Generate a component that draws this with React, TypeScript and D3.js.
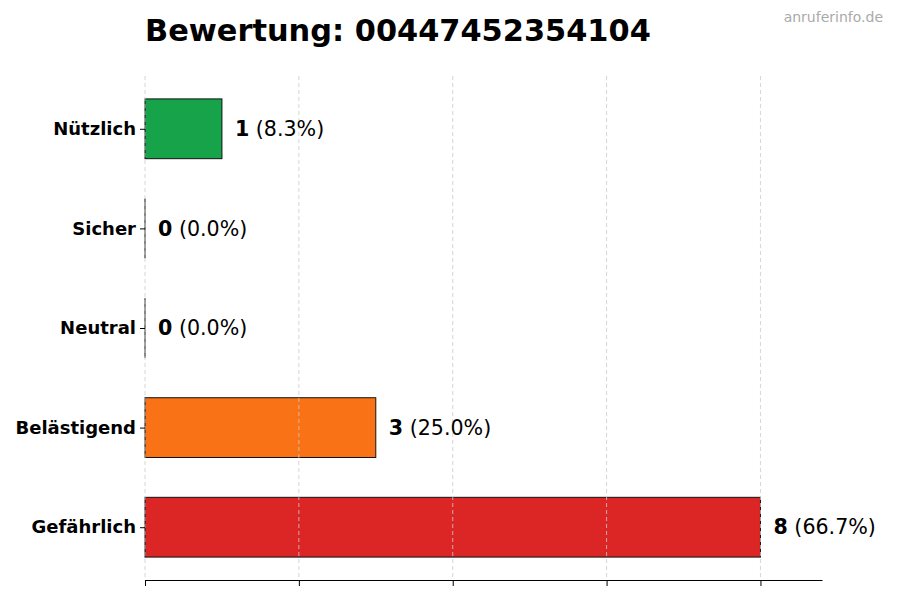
// Bewertung chart - horizontal bar chart of call ratings

import { useEffect, useRef } from "react";
import * as d3 from "d3";

const categories = ["Gefährlich", "Belästigend", "Neutral", "Sicher", "Nützlich"];
const counts = [8, 3, 0, 0, 1];
const colors = ["#dc2626", "#f97316", "#6b7280", "#2563eb", "#16a34a"];
const xTicks = [0, 2, 4, 6, 8];

const title = "Bewertung: 00447452354104";
const watermark = "anruferinfo.de";

export default function App() {
  const svgRef = useRef<SVGSVGElement>(null);

  useEffect(() => {
    if (!svgRef.current) return;
    const svg = d3.select(svgRef.current);
    svg.selectAll("*").remove();

    const width = 900;
    const height = 600;
    const margin = { top: 76, right: 78, bottom: 20, left: 145 };
    const font = "DejaVu Sans, sans-serif";

    const total = d3.sum(counts);
    const maxVal = d3.max(counts) || 1;

    const x = d3
      .scaleLinear()
      .domain([0, maxVal * 1.1])
      .range([margin.left, width - margin.right]);

    // matplotlib style: bar height 0.6, 5% margins
    const y = d3
      .scaleLinear()
      .domain([-0.53, categories.length - 1 + 0.53])
      .range([height - margin.bottom, margin.top]);
    const barH = Math.abs(y(0.6) - y(0));

    svg
      .append("rect")
      .attr("width", width)
      .attr("height", height)
      .attr("fill", "#ffffff");

    // Bars
    svg
      .append("g")
      .selectAll("rect")
      .data(counts)
      .enter()
      .append("rect")
      .attr("x", x(0))
      .attr("y", (d, i) => y(i) - barH / 2)
      .attr("width", (d) => x(d) - x(0))
      .attr("height", barH)
      .attr("fill", (d, i) => colors[i])
      .attr("stroke", "#111")
      .attr("stroke-width", 1);

    // Zero bars: edge line only
    svg
      .append("g")
      .selectAll("line")
      .data(counts.map((d, i) => ({ d, i })).filter((o) => o.d === 0))
      .enter()
      .append("line")
      .attr("x1", x(0))
      .attr("x2", x(0))
      .attr("y1", (o) => y(o.i) - barH / 2)
      .attr("y2", (o) => y(o.i) + barH / 2)
      .attr("stroke", "#111")
      .attr("stroke-width", 1);

    // Grid (on top of bars)
    svg
      .append("g")
      .selectAll("line")
      .data(xTicks)
      .enter()
      .append("line")
      .attr("x1", (d) => x(d))
      .attr("x2", (d) => x(d))
      .attr("y1", margin.top)
      .attr("y2", height - margin.bottom)
      .attr("stroke", "#cccccc")
      .attr("stroke-width", 0.8)
      .attr("stroke-dasharray", "4,3");

    // Bottom axis: ticks only
    const xAxis = svg
      .append("g")
      .attr("transform", `translate(0, ${height - margin.bottom})`)
      .call(
        d3
          .axisBottom(x)
          .tickValues(xTicks)
          .tickSizeInner(6)
          .tickSizeOuter(0)
          .tickFormat(() => "")
      );
    xAxis.select(".domain").attr("stroke", "#000").attr("stroke-width", 1);
    xAxis.selectAll(".tick line").attr("stroke", "#000");

    // Left axis: ticks + bold labels, no spine
    const yAxis = svg
      .append("g")
      .attr("transform", `translate(${margin.left}, 0)`)
      .call(
        d3
          .axisLeft(y)
          .tickValues(d3.range(categories.length))
          .tickSize(5)
          .tickPadding(4)
          .tickFormat((d) => categories[d as number])
      );
    yAxis.select(".domain").remove();
    yAxis.selectAll(".tick line").attr("stroke", "#000");
    yAxis
      .selectAll(".tick text")
      .attr("fill", "#000")
      .style("font-family", font)
      .style("font-size", "18px")
      .style("font-weight", "bold");

    // Value labels
    const labels = svg
      .append("g")
      .selectAll("text")
      .data(counts)
      .enter()
      .append("text")
      .attr("x", (d) => x(d) + 13)
      .attr("y", (d, i) => y(i))
      .attr("dy", "0.35em")
      .attr("fill", "#000")
      .style("font-family", font)
      .style("font-size", "20.6px");
    labels
      .append("tspan")
      .style("font-weight", "bold")
      .text((d) => `${d}`);
    labels
      .append("tspan")
      .text((d) => ` (${((d / total) * 100).toFixed(1)}%)`);

    // Title
    svg
      .append("text")
      .attr("x", margin.left)
      .attr("y", 41)
      .attr("fill", "#000")
      .style("font-family", font)
      .style("font-size", "30.4px")
      .style("font-weight", "bold")
      .text(title);

    // Watermark
    svg
      .append("text")
      .attr("x", 883)
      .attr("y", 22)
      .attr("text-anchor", "end")
      .attr("fill", "#aaaaaa")
      .style("font-family", font)
      .style("font-size", "14px")
      .text(watermark);
  }, []);

  return (
    <svg
      ref={svgRef}
      width={900}
      height={600}
      style={{ position: "absolute", left: 0, top: 0 }}
    />
  );
}
